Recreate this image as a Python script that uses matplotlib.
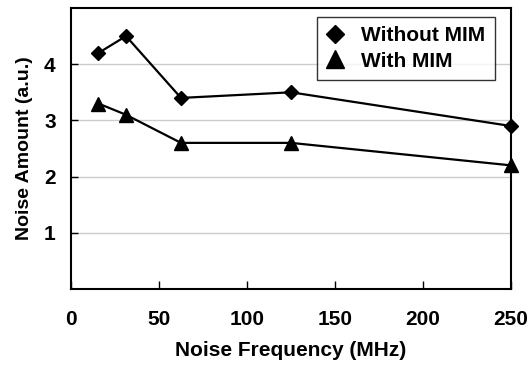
import matplotlib
matplotlib.use("Agg")
import matplotlib.pyplot as plt

freq = [15.6, 31.25, 62.5, 125, 250]
without_mim = [4.2, 4.5, 3.4, 3.5, 2.9]
with_mim = [3.3, 3.1, 2.6, 2.6, 2.2]
xticks = [0, 50, 100, 150, 200, 250]
yticks = [1, 2, 3, 4]

plt.rcParams['font.family'] = ['Liberation Sans', 'DejaVu Sans']
plt.rcParams['font.weight'] = 'bold'

fig = plt.figure(figsize=(5.32, 3.66), dpi=100)
ax = fig.add_axes([71/532, 1 - 289/366, 440/532, 281/366])

ax.plot(freq, without_mim, color='black', lw=1.6, marker='D', ms=7, label='Without MIM', clip_on=False, zorder=3)
ax.plot(freq, with_mim, color='black', lw=1.6, marker='^', ms=10, label='With MIM', clip_on=False, zorder=3)

ax.set_xlim(0, 250)
ax.set_ylim(0, 5)
ax.set_xticks(xticks)
ax.set_yticks(yticks)
ax.yaxis.grid(True, color='#cccccc', lw=1)
ax.set_axisbelow(True)
ax.tick_params(axis='x', direction='in', length=6, width=1, labelsize=15, pad=15)
ax.tick_params(axis='y', direction='in', length=5, width=1, labelsize=15, pad=11)
for lab in ax.get_xticklabels() + ax.get_yticklabels():
    lab.set_fontweight('bold')
for s in ax.spines.values():
    s.set_linewidth(1.5)

ax.set_xlabel('Noise Frequency (MHz)', fontsize=15, fontweight='bold', labelpad=9)
ax.set_ylabel('Noise Amount (a.u.)', fontsize=14, fontweight='bold', labelpad=8)

leg = ax.legend(loc='upper right', bbox_to_anchor=(0.9636, 0.968), fontsize=15, frameon=True,
                fancybox=False, edgecolor='black', handlelength=0.8, handletextpad=0.87,
                borderpad=0.45, labelspacing=0.3, borderaxespad=0)
leg.get_frame().set_linewidth(1)
for h in leg.legend_handles:
    h.set_linestyle('')
leg.legend_handles[0].set_markersize(8.7)
leg.legend_handles[1].set_markersize(12.5)
for t in leg.get_texts():
    t.set_fontweight('bold')

fig.savefig('out.png', dpi=100)
